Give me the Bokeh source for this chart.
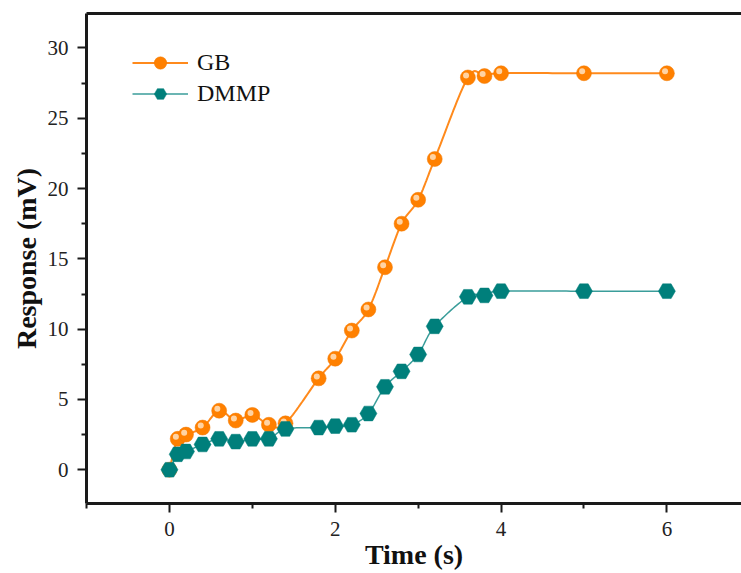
import numpy as np
from bokeh.plotting import figure
from bokeh.models import ColumnDataSource, LinearAxis, Range1d, Legend, FixedTicker
from bokeh.transform import dodge
from bokeh.embed import file_html
from bokeh.resources import INLINE

# data
time_s = [0, 0.1, 0.2, 0.4, 0.6, 0.8, 1.0, 1.2, 1.4, 1.8, 2.0, 2.2, 2.4, 2.6, 2.8,
          3.0, 3.2, 3.6, 3.8, 4.0, 5.0, 6.0]
gb = [0, 2.2, 2.5, 3.0, 4.2, 3.5, 3.9, 3.2, 3.3, 6.5, 7.9, 9.9, 11.4, 14.4, 17.5,
      19.2, 22.1, 27.9, 28.0, 28.2, 28.2, 28.2]
dmmp = [0, 1.1, 1.3, 1.8, 2.2, 2.0, 2.2, 2.2, 2.9, 3.0, 3.1, 3.2, 4.0, 5.9, 7.0,
        8.2, 10.2, 12.3, 12.4, 12.7, 12.7, 12.7]
x_ticks = [0, 2, 4, 6]
y_ticks = [0, 5, 10, 15, 20, 25, 30]

FONT = "Liberation Serif"
ORANGE = "#FF8000"
ORANGE_LINE = "#FF8A1C"
TEAL = "#007F7B"
TEAL_LINE = "#3A9D9A"

src = ColumnDataSource(dict(x=time_s, gb=gb, dmmp=dmmp))

p = figure(width=741, height=573, output_backend="svg", toolbar_location=None,
           x_range=Range1d(-1, 6.9), y_range=Range1d(-2.4, 32.45),
           min_border_left=86, min_border_right=0, min_border_top=13,
           min_border_bottom=70, x_axis_location="below")
p.outline_line_color = None
p.grid.visible = False
p.background_fill_color = "white"
p.border_fill_color = "white"

def style_axis(ax):
    ax.axis_line_width = 3
    ax.axis_line_color = "#1a1a1a"
    ax.major_tick_line_width = 2
    ax.minor_tick_line_width = 2
    ax.major_tick_line_color = "#1a1a1a"
    ax.minor_tick_line_color = "#1a1a1a"
    ax.major_tick_out = 9
    ax.major_tick_in = 0
    ax.minor_tick_out = 5
    ax.minor_tick_in = 0
    ax.major_label_text_font = FONT
    ax.major_label_text_font_size = "21px"
    ax.major_label_text_line_height = 1.0
    ax.major_label_text_color = "#222222"
    ax.axis_label_text_font = FONT
    ax.axis_label_text_font_size = "28px"
    ax.axis_label_text_line_height = 1.0
    ax.axis_label_text_font_style = "bold"
    ax.axis_label_text_color = "#111111"

xa = p.xaxis[0]
xa.ticker = FixedTicker(ticks=x_ticks, minor_ticks=[-1, 1, 3, 5])
xa.axis_label = "Time (s)"
xa.major_label_standoff = 9
xa.axis_label_standoff = 0
style_axis(xa)

ya = p.yaxis[0]
ya.ticker = FixedTicker(ticks=y_ticks, minor_ticks=[-2.5, 2.5, 7.5, 12.5, 17.5, 22.5, 27.5, 32.5])
ya.axis_label = "Response (mV)"
ya.major_label_standoff = 9
ya.axis_label_standoff = 3
style_axis(ya)

top = LinearAxis(ticker=FixedTicker(ticks=[]), major_label_text_font_size="0px",
                 major_tick_out=0, minor_tick_out=0, axis_line_width=3,
                 axis_line_color="#1a1a1a")
p.add_layout(top, "above")


def smooth_line(ycol, color, width):
    # Catmull-Rom rendering of the line through the data points
    # (computed in screen-proportional units so the curve is not distorted)
    sx, sy = 83.0, 14.07
    xs = np.asarray(time_s, float) * sx
    ys = np.asarray(src.data[ycol], float) * sy
    P = np.column_stack([xs, ys])
    P = np.vstack([P[0], P, P[-1]])
    out = []
    for i in range(1, len(P) - 2):
        p0, p1, p2, p3 = P[i - 1], P[i], P[i + 1], P[i + 2]
        for t in np.linspace(0, 1, 20, endpoint=False):
            t2, t3 = t * t, t * t * t
            pt = 0.5 * ((2 * p1) + (-p0 + p2) * t + (2 * p0 - 5 * p1 + 4 * p2 - p3) * t2
                        + (-p0 + 3 * p1 - 3 * p2 + p3) * t3)
            out.append(pt)
    out.append(P[-2])
    out = np.array(out)
    return p.line(out[:, 0] / sx, out[:, 1] / sy, line_color=color, line_width=width)


# GB
gl = smooth_line("gb", ORANGE_LINE, 2)
gm = p.scatter(x="x", y="gb", source=src, marker="circle", size=15,
               fill_color=ORANGE, line_color="#F07800", line_width=0.5)
gh = p.scatter(x=dodge("x", -0.022, range=p.x_range), y=dodge("gb", 0.14, range=p.y_range),
               source=src, marker="circle", size=6, fill_color="#FFE2BF",
               line_color=None, fill_alpha=0.85)

# DMMP
dl = smooth_line("dmmp", TEAL_LINE, 1.5)
dm = p.scatter(x="x", y="dmmp", source=src, marker="hex", size=17,
               fill_color=TEAL, line_color=TEAL, line_width=0.5)

legend = Legend(items=[("GB", [gl, gm]), ("DMMP", [dl, dm])],
                location=(46, 394), padding=10, margin=0, spacing=0,
                glyph_width=56, glyph_height=31, label_height=31, label_standoff=9,
                label_text_font=FONT, label_text_font_size="24px",
                label_text_line_height=1.0,
                label_text_color="#111111", border_line_color=None,
                background_fill_alpha=0)
p.add_layout(legend, "center")

open("out.html", "w").write(file_html(p, INLINE))
